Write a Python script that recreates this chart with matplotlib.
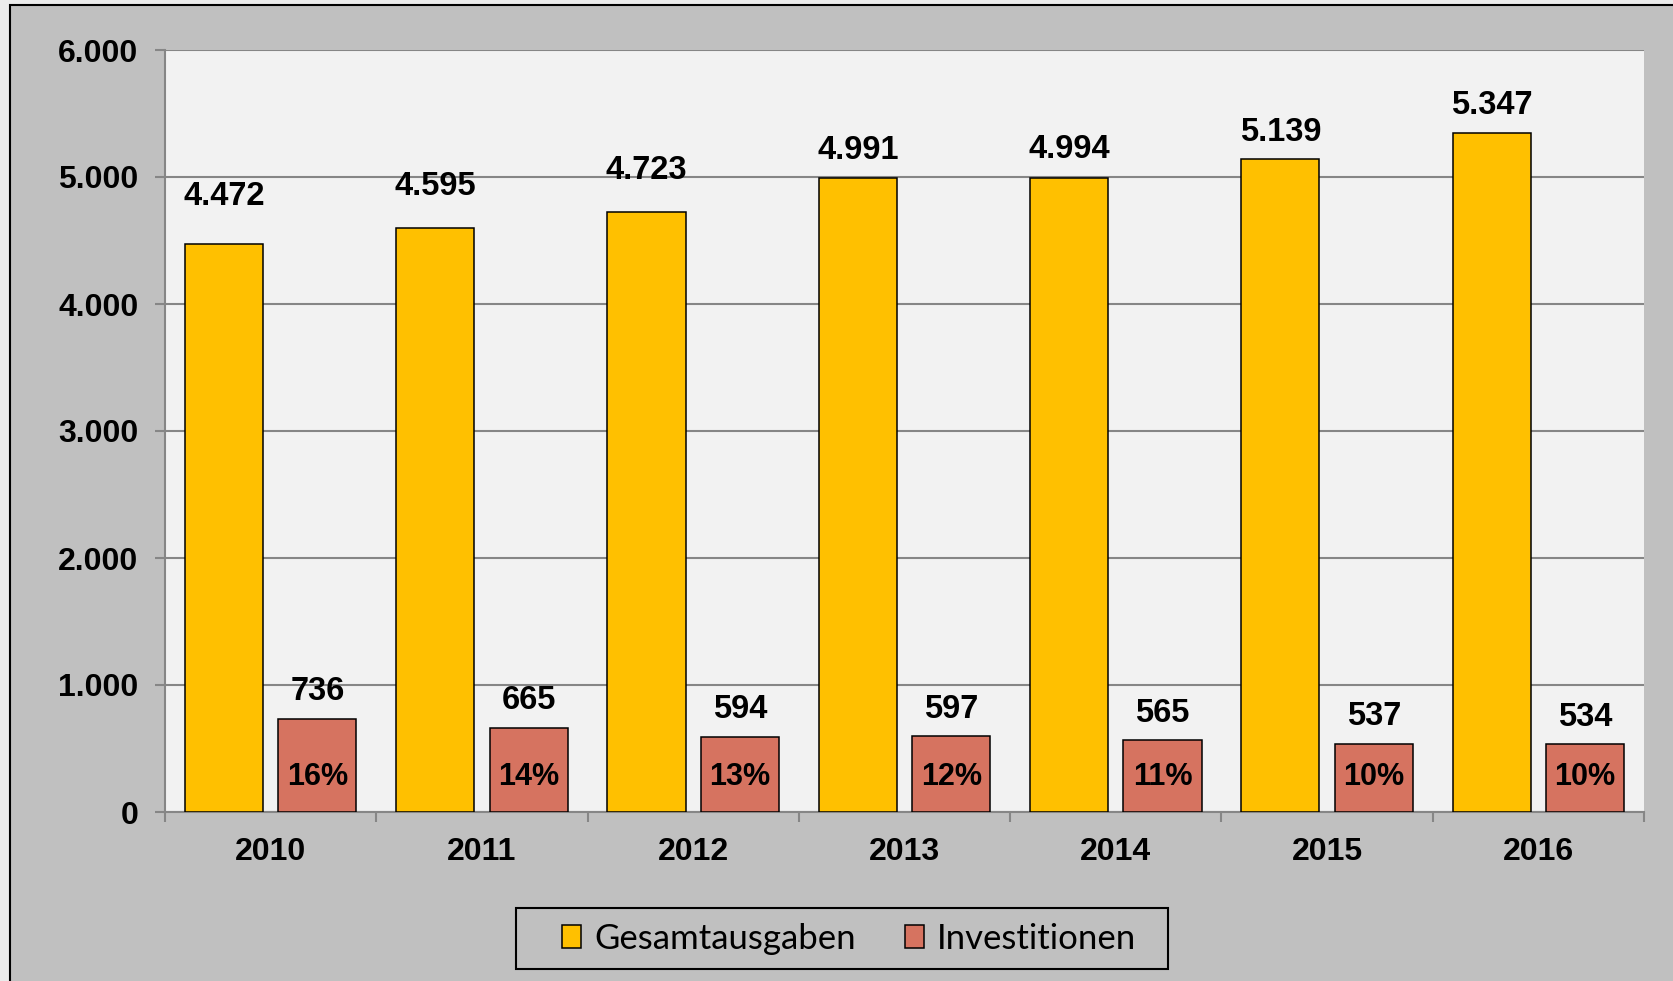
import numpy as np
import matplotlib.pyplot as plt
from matplotlib.patches import Rectangle

# Daten
jahre = ['2010', '2011', '2012', '2013', '2014', '2015', '2016']
gesamtausgaben = [4472, 4595, 4723, 4991, 4994, 5139, 5347]
investitionen = [736, 665, 594, 597, 565, 537, 534]
anteil = ['16%', '14%', '13%', '12%', '11%', '10%', '10%']
y_ticks = [0, 1000, 2000, 3000, 4000, 5000, 6000]
y_labels = ['0', '1.000', '2.000', '3.000', '4.000', '5.000', '6.000']

# Abstand der Beschriftungen über den Balken (Pixel), wie im Original verschoben
offset_gelb = [48, 42, 42, 28, 28, 27, 27]
offset_rot = 27

gelb = '#FFC000'
rot = '#D67360'
grau = '#C0C0C0'

plt.rcParams['font.family'] = ['Liberation Sans', 'DejaVu Sans']

W, H = 1673, 981
fig = plt.figure(figsize=(W / 100, H / 100), dpi=100, facecolor='#EBEBEB')

# Rahmen des Diagrammbereichs
fig.patches.append(Rectangle((10 / W, -0.05), 1.1, 1 - 5 / H + 0.05,
                             transform=fig.transFigure, facecolor=grau,
                             edgecolor='black', linewidth=1.5, zorder=-10))

ax = fig.add_axes([165 / W, 1 - 812 / H, (1644 - 165) / W, (812 - 50) / H])
ax.set_facecolor('#F2F2F2')

x = np.arange(len(jahre))
breite = 0.37
versatz = 0.221

b1 = ax.bar(x - versatz, gesamtausgaben, breite, color=gelb, edgecolor='black',
            linewidth=1.1, label='Gesamtausgaben', zorder=3)
b2 = ax.bar(x + versatz, investitionen, breite, color=rot, edgecolor='black',
            linewidth=1.1, label='Investitionen', zorder=3)

def fmt(v):
    return f'{v:,}'.replace(',', '.')

for i in range(len(jahre)):
    ax.annotate(fmt(gesamtausgaben[i]), (x[i] - versatz, gesamtausgaben[i]),
                xytext=(0, offset_gelb[i]), textcoords='offset pixels',
                ha='center', va='center', fontsize=23.5, fontweight='bold')
    ax.annotate(fmt(investitionen[i]), (x[i] + versatz, investitionen[i]),
                xytext=(0, offset_rot), textcoords='offset pixels',
                ha='center', va='center', fontsize=23.5, fontweight='bold')
    ax.text(x[i] + versatz, 275, anteil[i], ha='center', va='center',
            fontsize=22, fontweight='bold', zorder=4)

ax.set_xlim(-0.5, len(jahre) - 0.5)
ax.set_ylim(0, 6000)
ax.set_yticks(y_ticks)
ax.set_yticklabels(y_labels, fontsize=23, fontweight='bold')
ax.set_xticks(x)
ax.set_xticklabels(jahre, fontsize=23, fontweight='bold')
ax.set_xticks(np.arange(len(jahre) + 1) - 0.5, minor=True)

ax.tick_params(axis='y', length=7, width=1.5, color='#868686', pad=12)
ax.tick_params(axis='x', which='major', length=0, pad=18)
ax.tick_params(axis='x', which='minor', length=7, width=1.5, color='#868686')

ax.grid(axis='y', color='#868686', linewidth=1.5, zorder=1)
ax.set_axisbelow(True)
for s in ['top', 'right']:
    ax.spines[s].set_visible(False)
for s in ['left', 'bottom']:
    ax.spines[s].set_color('#868686')
    ax.spines[s].set_linewidth(1.5)

# Legende mit eigenem Rahmen
fig.patches.append(Rectangle((516 / W, 1 - 969 / H), (1168 - 516) / W, 61 / H,
                             transform=fig.transFigure, facecolor='none',
                             edgecolor='black', linewidth=1.5, zorder=5))
leg = fig.legend(handles=[b1, b2], loc='center', bbox_to_anchor=(849 / W, 1 - 939 / H),
                 ncol=2, frameon=False, prop={'family': 'Lato', 'size': 25},
                 handlelength=0.55, handleheight=0.63, handletextpad=0.375,
                 columnspacing=1.41, borderpad=0.2)

fig.savefig('out.png', dpi=100, facecolor=fig.get_facecolor())
